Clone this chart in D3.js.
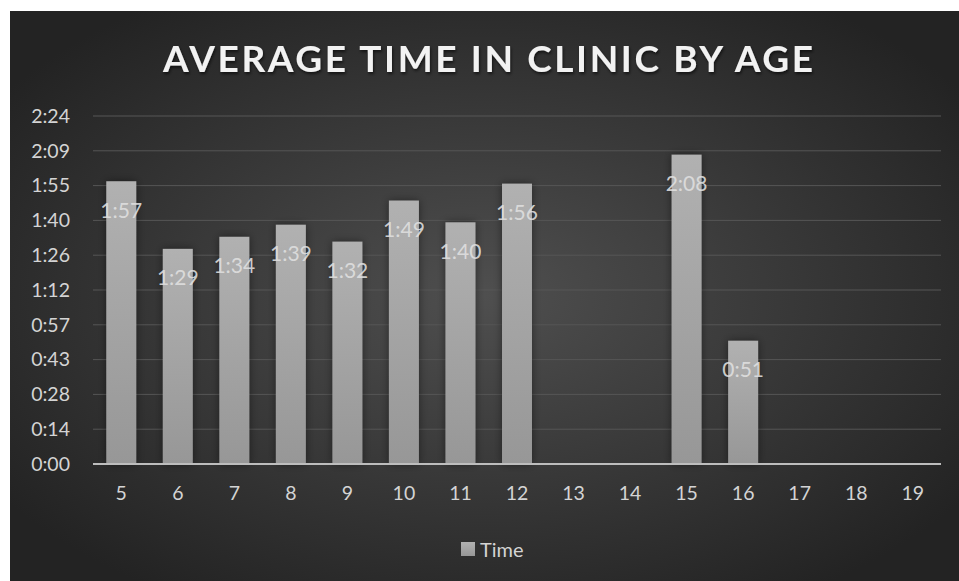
<!DOCTYPE html>
<html>
<head>
<meta charset="utf-8">
<script src="https://cdn.jsdelivr.net/npm/d3@7"></script>
<style>
  body { margin: 0; background: #fff; }
  svg { display: block; }
</style>
</head>
<body>
<svg id="chart"></svg>
<script>
// ages on the x axis
const ages = ['5', '6', '7', '8', '9', '10', '11', '12', '13', '14', '15', '16', '17', '18', '19'];
// average time in minutes (null = no data)
const minutes = [117, 89, 94, 99, 92, 109, 100, 116, null, null, 128, 51, null, null, null];
// y tick values (minutes) and their labels
const tickMinutes = [0, 14.4, 28.8, 43.2, 57.6, 72, 86.4, 100.8, 115.2, 129.6, 144];
const tickLabels = ['0:00', '0:14', '0:28', '0:43', '0:57', '1:12', '1:26', '1:40', '1:55', '2:09', '2:24'];

const width = 959,
	height = 581,
	margin = {left: 93, right: 18, top: 116, bottom: 117},
	font = 'Lato, "Open Sans", sans-serif';

const svg = d3.select('svg#chart')
	.attr('width', width)
	.attr('height', height);

const defs = svg.append('defs');

const bg = defs.append('radialGradient')
	.attr('id', 'bg')
	.attr('cx', '50%').attr('cy', '50%').attr('r', '62%');
bg.append('stop').attr('offset', '0%').attr('stop-color', '#4f4f4f');
bg.append('stop').attr('offset', '100%').attr('stop-color', '#232323');

const barGrad = defs.append('linearGradient')
	.attr('id', 'barGrad')
	.attr('x1', 0).attr('y1', 0).attr('x2', 0).attr('y2', 1);
barGrad.append('stop').attr('offset', '0%').attr('stop-color', '#b1b1b1');
barGrad.append('stop').attr('offset', '100%').attr('stop-color', '#979797');

const shadow = defs.append('filter')
	.attr('id', 'shadow')
	.attr('x', '-30%').attr('y', '-30%').attr('width', '160%').attr('height', '160%');
shadow.append('feDropShadow')
	.attr('dx', 0).attr('dy', 0).attr('stdDeviation', 4)
	.attr('flood-color', '#000').attr('flood-opacity', 0.45);

const titleShadow = defs.append('filter')
	.attr('id', 'titleShadow')
	.attr('x', '-10%').attr('y', '-30%').attr('width', '120%').attr('height', '160%');
titleShadow.append('feDropShadow')
	.attr('dx', 1).attr('dy', 2).attr('stdDeviation', 1.5)
	.attr('flood-color', '#000').attr('flood-opacity', 0.6);

// chart area background
svg.append('rect')
	.attr('x', 10).attr('y', 11)
	.attr('width', width - 10).attr('height', height - 11)
	.attr('fill', 'url(#bg)');

const x = d3.scaleBand()
	.domain(ages)
	.range([margin.left, width - margin.right])
	.paddingInner(0.47)
	.paddingOuter(0.235);

const y = d3.scaleLinear()
	.domain([0, 144])
	.range([height - margin.bottom, margin.top]);

// gridlines
svg.append('g')
	.selectAll('line')
	.data(tickMinutes.slice(1))
	.join('line')
	.attr('x1', margin.left)
	.attr('x2', width - margin.right)
	.attr('y1', d => y(d))
	.attr('y2', d => y(d))
	.attr('stroke', '#565656')
	.attr('stroke-width', 1);

// y axis labels
const yAxis = d3.axisLeft(y)
	.tickValues(tickMinutes)
	.tickFormat((d, i) => tickLabels[i])
	.tickSize(0)
	.tickPadding(23);

svg.append('g')
	.attr('transform', `translate(${margin.left},0)`)
	.call(yAxis)
	.call(g => g.select('.domain').remove())
	.selectAll('text')
	.attr('fill', '#d4d4d4')
	.style('font-family', font)
	.style('font-size', '19.5px');

const data = ages.map((a, i) => ({age: a, v: minutes[i]})).filter(d => d.v != null);

// bars
svg.append('g')
	.selectAll('rect')
	.data(data)
	.join('rect')
	.attr('x', d => x(d.age))
	.attr('y', d => y(d.v))
	.attr('width', x.bandwidth())
	.attr('height', d => y(0) - y(d.v))
	.attr('fill', 'url(#barGrad)')
	.attr('filter', 'url(#shadow)');

// zero axis line
svg.append('line')
	.attr('x1', margin.left)
	.attr('x2', width - margin.right)
	.attr('y1', y(0))
	.attr('y2', y(0))
	.attr('stroke', '#bdbdbd')
	.attr('stroke-width', 2);

// x axis labels
const xAxis = d3.axisBottom(x).tickSize(0).tickPadding(22);
svg.append('g')
	.attr('transform', `translate(0,${y(0)})`)
	.call(xAxis)
	.call(g => g.select('.domain').remove())
	.selectAll('text')
	.attr('fill', '#d4d4d4')
	.style('font-family', font)
	.style('font-size', '19.5px');

// data labels
const fmt = m => Math.floor(m / 60) + ':' + String(m % 60).padStart(2, '0');
svg.append('g')
	.selectAll('text')
	.data(data)
	.join('text')
	.attr('x', d => x(d.age) + x.bandwidth() / 2)
	.attr('y', d => y(d.v) + 28)
	.attr('text-anchor', 'middle')
	.attr('dominant-baseline', 'central')
	.attr('fill', '#e0e0e0')
	.attr('fill-opacity', 0.9)
	.style('font-family', font)
	.style('font-size', '21px')
	.text(d => fmt(d.v));

// title
svg.append('text')
	.attr('x', 488)
	.attr('y', 72)
	.attr('text-anchor', 'middle')
	.attr('fill', '#f2f2f2')
	.attr('filter', 'url(#titleShadow)')
	.attr('textLength', 650)
	.attr('lengthAdjust', 'spacing')
	.style('font-family', font)
	.style('font-weight', 'bold')
	.style('font-size', '37px')
	.text('AVERAGE TIME IN CLINIC BY AGE');

// legend
const legend = svg.append('g').attr('transform', 'translate(461,542)');
legend.append('rect')
	.attr('width', 14).attr('height', 14)
	.attr('fill', 'url(#barGrad)');
legend.append('text')
	.attr('x', 19).attr('y', 7)
	.attr('dominant-baseline', 'central')
	.attr('fill', '#d4d4d4')
	.style('font-family', font)
	.style('font-size', '20px')
	.text('Time');
</script>
</body>
</html>
